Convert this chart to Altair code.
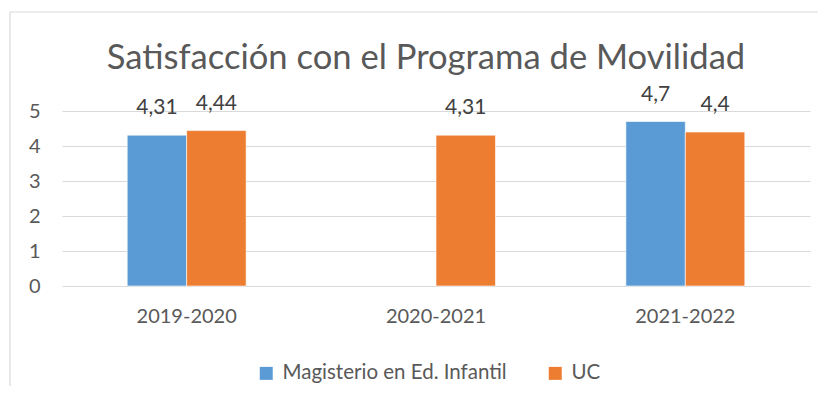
import altair as alt
import pandas as pd

title_text = "Satisfacción con el Programa de Movilidad"
categories = ["2019-2020", "2020-2021", "2021-2022"]
series_names = ["Magisterio en Ed. Infantil", "UC"]
magisterio = [4.31, None, 4.7]
uc = [4.44, 4.31, 4.4]
colors = ["#5B9BD5", "#ED7D31"]
y_ticks = [0, 1, 2, 3, 4, 5]

rows = []
for name, vals in zip(series_names, [magisterio, uc]):
    for c, v in zip(categories, vals):
        if v is not None:
            rows.append({"cat": c, "serie": name, "val": v,
                         "lab": ("%g" % v).replace(".", ",")})
df = pd.DataFrame(rows)

FONT = "Lato"
GREY = "#595959"

x_enc = alt.X("cat:N", sort=categories, title=None,
              scale=alt.Scale(paddingInner=0.523, paddingOuter=0.2615),
              axis=alt.Axis(labelAngle=0, ticks=False, domain=False,
                            labelPadding=20, labelFontSize=20,
                            labelColor=GREY, labelFont=FONT))
xo = alt.XOffset("serie:N", sort=series_names,
                 scale=alt.Scale(domain=series_names, paddingInner=0, paddingOuter=0))
y_enc = alt.Y("val:Q", title=None,
              scale=alt.Scale(domain=[0, 5], nice=False, zero=True),
              axis=alt.Axis(values=y_ticks, tickCount=6, labelOverlap=False,
                            ticks=False, domain=False,
                            labelPadding=22, labelFontSize=20, labelColor=GREY,
                            labelFont=FONT, gridColor="#D9D9D9", gridWidth=1))

bars = alt.Chart(df).mark_bar(stroke="white", strokeWidth=0.6).encode(
    x=x_enc,
    xOffset=xo,
    y=y_enc,
    color=alt.Color("serie:N", sort=series_names,
                    scale=alt.Scale(domain=series_names, range=colors),
                    legend=alt.Legend(title=None, orient="none", direction="horizontal",
                                      legendX=194, legendY=252,
                                      symbolType="square", symbolSize=169,
                                      symbolStrokeWidth=0, labelFontSize=20.5,
                                      labelColor=GREY, labelFont=FONT, labelLimit=500,
                                      columnPadding=38, labelOffset=6)),
)

labels = alt.Chart(df).mark_text(dy=-27, baseline="middle", fontSize=21,
                                 color="#404040", font=FONT).encode(
    x=x_enc,
    xOffset=xo,
    y=y_enc,
    text="lab:N",
)

frame_df = pd.DataFrame({"t": [title_text]})
top_border = alt.Chart(frame_df).mark_rule(color="#D9D9D9", strokeWidth=1.2).encode(
    x=alt.value(-52), x2=alt.value(770), y=alt.value(-99))
left_border = alt.Chart(frame_df).mark_rule(color="#D9D9D9", strokeWidth=1.2).encode(
    x=alt.value(-52), y=alt.value(-99), y2=alt.value(300))
title_mark = alt.Chart(frame_df).mark_text(
    fontSize=34.6, font=FONT, color=GREY, baseline="alphabetic", align="center"
).encode(x=alt.value(364), y=alt.value(-42), text="t:N")

chart = alt.layer(top_border, left_border, title_mark, bars, labels).properties(
    width=748, height=175,
    padding={"left": 54, "top": 103, "right": 8, "bottom": 100},
    autosize=alt.AutoSizeParams(type="none"),
).configure_view(stroke=None)

chart.save("out.html", embed_options={"renderer": "svg", "actions": False})
